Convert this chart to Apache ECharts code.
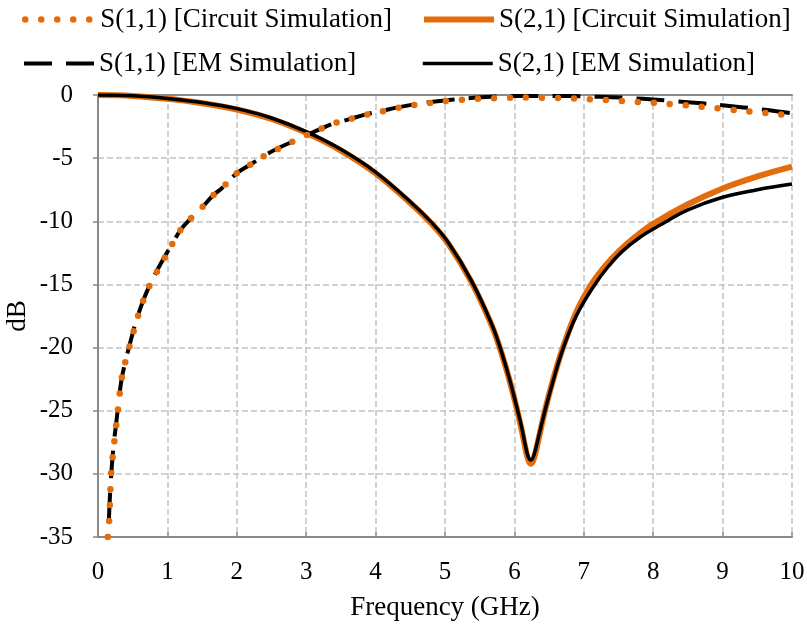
<!DOCTYPE html>
<html>
<head>
<meta charset="utf-8">
<script src="https://cdn.jsdelivr.net/npm/echarts@6/dist/echarts.min.js"></script>
<style>
  html, body { margin: 0; padding: 0; background: #fff; }
  #main { width: 807px; height: 633px; }
</style>
</head>
<body>
<div id="main"></div>
<script>
// S(1,1) circuit simulation (orange dotted)
var s11cFreq = [0.14, 0.16, 0.19, 0.22, 0.26, 0.30, 0.34, 0.40, 0.45, 0.55, 0.65, 0.75, 0.85, 0.95, 1.1, 1.2, 1.35, 1.5, 1.65, 1.8, 2.0, 2.2, 2.4, 2.6, 2.8, 3.0, 3.2, 3.4, 3.6, 3.85, 4.1, 4.3, 4.55, 4.8, 5.05, 5.3, 5.6, 5.9, 6.2, 6.5, 6.8, 7.1, 7.4, 7.7, 8.0, 8.3, 8.7, 9.1, 9.5, 9.8, 10];
var s11cDb = [-35, -33.8, -30.0, -28.2, -26.3, -24.3, -22.5, -21.0, -20.0, -18.0, -16.3, -15.0, -14.0, -13.0, -11.5, -10.6, -9.7, -8.9, -8.0, -7.3, -6.2, -5.5, -4.8, -4.25, -3.7, -3.2, -2.7, -2.25, -1.95, -1.58, -1.3, -1.05, -0.8, -0.62, -0.46, -0.35, -0.27, -0.23, -0.2, -0.22, -0.27, -0.34, -0.43, -0.53, -0.62, -0.74, -0.93, -1.15, -1.37, -1.52, -1.58];

// S(2,1) circuit simulation (orange solid)
var s21cFreq = [0, 0.5, 1, 1.5, 2, 2.5, 3, 3.5, 4, 4.5, 4.8, 5.05, 5.38, 5.67, 5.8, 5.92, 6.02, 6.1, 6.16, 6.2, 6.24, 6.28, 6.35, 6.44, 6.55, 6.7, 6.9, 7.11, 7.3, 7.5, 7.75, 8.0, 8.5, 9.0, 9.5, 10];
var s21cDb = [0, -0.07, -0.3, -0.65, -1.15, -1.9, -3.0, -4.4, -6.2, -8.55, -10.15, -11.8, -14.8, -18.2, -20.2, -22.4, -24.5, -26.4, -28.0, -28.9, -29.2, -28.8, -27.2, -25.0, -22.7, -20.0, -17.1, -15.0, -13.6, -12.4, -11.2, -10.2, -8.65, -7.4, -6.45, -5.67];

// S(1,1) EM simulation (black dashed)
var s11eFreq = [0.13, 0.15, 0.18, 0.22, 0.26, 0.30, 0.34, 0.40, 0.45, 0.55, 0.65, 0.75, 0.85, 0.95, 1.1, 1.2, 1.35, 1.5, 1.65, 1.8, 2.0, 2.2, 2.4, 2.6, 2.8, 3.0, 3.2, 3.4, 3.6, 3.85, 4.1, 4.3, 4.55, 4.8, 5.05, 5.3, 5.6, 5.9, 6.2, 6.5, 6.8, 7.1, 7.4, 7.7, 8.0, 8.3, 8.7, 9.1, 9.5, 9.8, 10];
var s11eDb = [-37, -34.5, -31, -28.0, -26.1, -24.2, -22.5, -21.0, -19.9, -17.9, -16.3, -15.0, -13.9, -12.9, -11.5, -10.6, -9.7, -8.9, -8.0, -7.3, -6.2, -5.5, -4.8, -4.2, -3.7, -3.2, -2.7, -2.25, -1.95, -1.55, -1.25, -1.0, -0.75, -0.55, -0.4, -0.27, -0.16, -0.09, -0.07, -0.07, -0.08, -0.13, -0.17, -0.25, -0.36, -0.48, -0.66, -0.87, -1.1, -1.3, -1.45];

// S(2,1) EM simulation (black solid)
var s21eFreq = [0, 0.5, 1, 1.5, 2, 2.5, 3, 3.5, 4, 4.5, 4.8, 5.05, 5.38, 5.67, 5.8, 5.92, 6.02, 6.1, 6.16, 6.2, 6.24, 6.28, 6.36, 6.45, 6.56, 6.7, 6.9, 7.16, 7.35, 7.55, 7.8, 8.1, 8.5, 9.0, 9.5, 10];
var s21eDb = [0, -0.06, -0.27, -0.6, -1.08, -1.82, -2.9, -4.3, -6.1, -8.45, -10.05, -11.7, -14.7, -18.1, -20.1, -22.3, -24.4, -26.2, -27.8, -28.65, -28.9, -28.55, -26.8, -24.8, -22.6, -20.1, -17.4, -15.0, -13.6, -12.4, -11.3, -10.3, -9.1, -8.1, -7.5, -7.05];

var names = ['S(1,1) [Circuit Simulation]', 'S(2,1) [Circuit Simulation]', 'S(1,1) [EM Simulation]', 'S(2,1) [EM Simulation]'];

function pairs(xs, ys) {
  var out = [];
  for (var i = 0; i < xs.length; i++) {
    out.push([xs[i], ys[i]]);
  }
  return out;
}

var orange = '#E46C0A';
var font = 'Liberation Serif';
var axisGray = '#898989';
var gridStyle = { color: '#C3C3C3', width: 1.5, type: [6, 3] };

var styles = [
  { color: orange, width: 6.5, type: [0, 16], cap: 'round' },
  { color: orange, width: 6 },
  { color: '#000', width: 4, type: [28, 14], cap: 'butt' },
  { color: '#000', width: 3.5 }
];

function leg(i, left, top) {
  return {
    data: [names[i]], left: left, top: top, itemWidth: 70, itemHeight: 14, itemGap: 0,
    padding: 0, selectedMode: false,
    textStyle: { fontFamily: font, fontSize: 27, color: '#000' },
    itemStyle: { opacity: 0 },
    lineStyle: styles[i]
  };
}

var chart = echarts.init(document.getElementById('main'));
chart.setOption({
  animation: false,
  backgroundColor: '#fff',
  legend: [
    leg(0, 22, 6),
    leg(1, 421, 6),
    leg(2, 22, 50),
    leg(3, 421, 50)
  ],
  grid: { left: 98, right: 15, top: 95, bottom: 96, containLabel: false, outerBoundsMode: 'none' },
  xAxis: [{
    type: 'value', min: 0, max: 10, interval: 1,
    name: 'Frequency (GHz)', nameLocation: 'middle', nameGap: 57, nameMoveOverlap: false,
    nameTextStyle: { fontFamily: font, fontSize: 27, color: '#000' },
    axisLine: { show: true, onZero: false, lineStyle: { color: axisGray, width: 2 } },
    axisTick: { show: true, inside: true, length: 5, lineStyle: { color: axisGray, width: 1.5 } },
    axisLabel: { fontFamily: font, fontSize: 25, color: '#000', margin: 23 },
    splitLine: { show: true, lineStyle: gridStyle }
  }, {
    type: 'value', min: 0, max: 10, interval: 1, position: 'top',
    axisLine: { show: true, onZero: false, lineStyle: { color: axisGray, width: 2 } },
    axisTick: { show: false }, axisLabel: { show: false }, splitLine: { show: false }
  }],
  yAxis: {
    type: 'value', min: -35, max: 0, interval: 5,
    name: 'dB', nameLocation: 'middle', nameGap: 67, nameMoveOverlap: false,
    nameTextStyle: { fontFamily: font, fontSize: 27, color: '#000' },
    axisLine: { show: true, lineStyle: { color: axisGray, width: 2 } },
    axisTick: { show: true, length: 5, lineStyle: { color: axisGray, width: 1.5 } },
    axisLabel: { fontFamily: font, fontSize: 25, color: '#000', margin: 25 },
    splitLine: { show: true, lineStyle: gridStyle }
  },
  series: [{
    name: names[1], type: 'line', data: pairs(s21cFreq, s21cDb), showSymbol: false, symbol: 'none',
    smooth: 0.4, clip: true, z: 2,
    lineStyle: styles[1], itemStyle: { color: orange }
  }, {
    name: names[3], type: 'line', data: pairs(s21eFreq, s21eDb), showSymbol: false, symbol: 'none',
    smooth: 0.4, clip: true, z: 3,
    lineStyle: styles[3], itemStyle: { color: '#000' }
  }, {
    name: names[2], type: 'line', data: pairs(s11eFreq, s11eDb), showSymbol: false, symbol: 'none',
    smooth: 0.4, clip: true, z: 4,
    lineStyle: styles[2], itemStyle: { color: '#000' }
  }, {
    name: names[0], type: 'line', data: pairs(s11cFreq, s11cDb), showSymbol: false, symbol: 'none',
    smooth: 0.4, clip: true, z: 5,
    lineStyle: styles[0], itemStyle: { color: orange }
  }]
});
</script>
</body>
</html>
